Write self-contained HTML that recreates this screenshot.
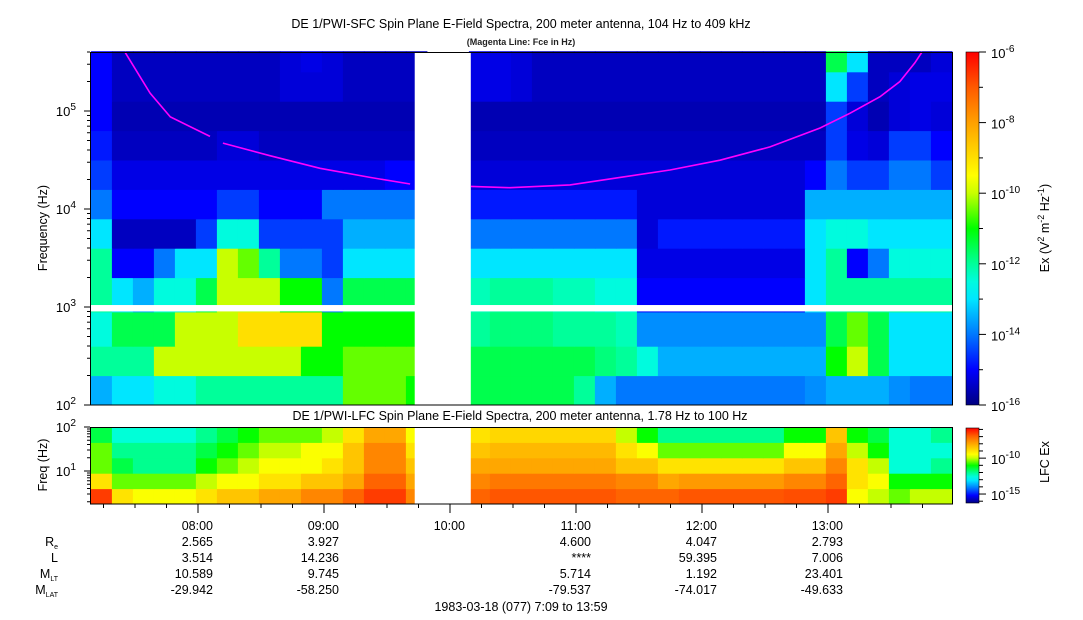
<!DOCTYPE html>
<html><head><meta charset="utf-8"><style>
html,body{margin:0;padding:0;background:#fff;}
svg{display:block;font-family:"Liberation Sans",Arial,sans-serif;}
</style></head><body>
<svg id="chart" xmlns="http://www.w3.org/2000/svg" width="1083" height="620" viewBox="0 0 1083 620">
<defs>
<linearGradient id="cbGrad" x1="0" y1="1" x2="0" y2="0"></linearGradient>
</defs>
<text x="521" y="28" font-size="12.5" text-anchor="middle">DE 1/PWI-SFC  Spin Plane E-Field Spectra, 200 meter antenna, 104 Hz to 409 kHz</text>
<text x="521" y="45" font-size="9" font-weight="bold" text-anchor="middle" fill="#222">(Magenta Line: Fce in Hz)</text>
<text x="520" y="420" font-size="12.5" text-anchor="middle">DE 1/PWI-LFC  Spin Plane E-Field Spectra, 200 meter antenna, 1.78 Hz to 100 Hz</text>
<g id="sfcCells"></g>
<g id="lfcCells"></g>
<g id="overlay"></g>
<g id="axes"></g>
</svg>
<script>
// ---- data ----
const tStart = 7.15;           // 7:09 in hours
const binHours = 1/6;          // 10-minute columns
const gapStart = 9.72, gapEnd = 10.165;
const sfcRowEdges = [2,2.3,2.6,2.95,3.3,3.6,3.9,4.2,4.5,4.8,5.1,5.4,5.61];
const lfcRowEdges = [0.25,0.6,0.95,1.3,1.65,2.0];
const N = null;
const sfcR0 = [-13.5,-13,-13,-12.5,-12.5,-12,-12,-12,-12,-12,-12,-12,-10.5,-10.5,-10.5,-11,N,N,-11.5,-11.5,-11.5,-11.5,-11.5,-12,-13.5,-14,-14,-14,-14,-14,-14,-14,-14,-14,-13.8,-13.5,-13.5,-13.5,-13.8,-14,-14];
const sfcR1 = [-12,-12,-12,-10,-10,-10,-10,-10,-10,-10,-11,-11,-10.5,-10.5,-10.5,-10.5,N,N,-11.5,-11.5,-11.5,-11.5,-11.5,-11.5,-11.8,-12,-12.5,-13.5,-13.5,-13.5,-13.5,-13.5,-13.5,-13.5,-13.5,-11,-10,-11.5,-13,-13,-13];
const sfcR2 = [-12.5,-11.5,-11.5,-11.5,-10,-10,-10,-9,-9,-9,-9,-11,-11,-11,-11,-11,N,N,-12,-11.8,-11.8,-11.8,-12,-12,-12,-12.2,-13.8,-13.8,-13.8,-13.8,-13.8,-13.8,-13.8,-13.8,-13.8,-11.5,-10.5,-11.5,-13,-13,-13];
const sfcR3 = [-12,-13,-13.5,-12.5,-12.5,-11.5,-10,-10,-10,-11,-11,-14,-11.5,-11.5,-11.5,-11.5,N,N,-12.2,-12,-12,-12,-12.2,-12.2,-12.5,-12.5,-15,-15,-15,-15,-15,-15,-15,-15,-13,-12,-12,-12,-12,-12,-12];
const sfcR4 = [-12,-15,-15,-14,-13,-13,-10,-10.5,-12,-14,-14,-14.5,-13,-13,-13,-13,N,N,-13,-13,-13,-13,-13,-13,-13,-13,-15.2,-15.2,-15.2,-15.2,-15.2,-15.2,-15.2,-15.2,-13,-12,-15,-14,-12.5,-12.5,-12.5];
const sfcR5 = [-13,-15.5,-15.5,-15.5,-15.5,-14.5,-12.5,-12.5,-14.5,-14.5,-14.5,-14.5,-13.5,-13.5,-13.5,-13.5,N,N,-14,-14,-14,-14,-14,-14,-14,-14,-15.3,-14.8,-14.8,-14.8,-14.8,-14.8,-14.8,-14.8,-13,-12.5,-12.5,-13,-13,-13,-13];
const sfcR6 = [-14,-15,-15,-15,-15,-15,-14.5,-14.5,-15,-15,-15,-14,-14,-14,-14,-14,N,N,-14.8,-14.8,-14.8,-14.8,-14.8,-14.8,-14.8,-14.8,-15.3,-15.3,-15.3,-15.3,-15.3,-15.3,-15.3,-15.3,-13.5,-13.5,-13.5,-13.5,-13.5,-13.5,-13.5];
const sfcR7 = [-14.5,-15.2,-15.2,-15.2,-15.2,-15.2,-15.2,-15.2,-15.2,-15.2,-15.2,-15.2,-15.2,-15.2,-15,-15,N,N,-15.3,-15.3,-15.3,-15.3,-15.3,-15.3,-15.3,-15.3,-15.3,-15.3,-15.3,-15.3,-15.3,-15.3,-15.3,-15.3,-15,-14,-14.5,-14.5,-14,-14,-14.5];
const sfcR8 = [-14.8,-15.5,-15.5,-15.5,-15.5,-15.5,-15.3,-15.3,-15.5,-15.5,-15.5,-15.5,-15.5,-15.5,-15.5,-15.5,N,N,-15.5,-15.5,-15.5,-15.5,-15.5,-15.5,-15.5,-15.5,-15.5,-15.5,-15.5,-15.5,-15.5,-15.5,-15.5,-15.5,-15.5,-14.5,-15.2,-15.3,-14.5,-14.5,-15];
const sfcR9 = [-15,-15.6,-15.6,-15.6,-15.6,-15.6,-15.6,-15.6,-15.6,-15.6,-15.6,-15.6,-15.6,-15.6,-15.6,-15.6,N,N,-15.6,-15.6,-15.6,-15.6,-15.6,-15.6,-15.6,-15.6,-15.6,-15.6,-15.6,-15.6,-15.6,-15.6,-15.6,-15.6,-15.6,-14.5,-15.3,-15.6,-15.3,-15.2,-15.3];
const sfcR10 = [-15,-15.5,-15.5,-15.5,-15.5,-15.5,-15.5,-15.5,-15.5,-15.3,-15.3,-15.3,-15.5,-15.5,-15.5,-15.5,N,N,-15.2,-15.2,-15.3,-15.5,-15.5,-15.5,-15.5,-15.5,-15.5,-15.5,-15.5,-15.5,-15.5,-15.5,-15.5,-15.5,-15.5,-13,-14.5,-15.5,-15.3,-15.2,-15.2];
const sfcR11 = [-15,-15.5,-15.5,-15.5,-15.5,-15.5,-15.5,-15.5,-15.5,-15.3,-15.2,-15.3,-15.5,-15.5,-15.5,-15.5,N,N,-15.2,-15.2,-15.3,-15.5,-15.5,-15.5,-15.5,-15.5,-15.5,-15.5,-15.5,-15.5,-15.5,-15.5,-15.5,-15.5,-15.5,-11.5,-13,-15.5,-15.5,-15.5,-15.3];
const lfcR0 = [-6.5,-9,-9.5,-9.5,-9.5,-9,-8.5,-8.5,-8,-8,-7.5,-7.5,-7,-6.5,-6.5,-7.5,N,N,-7,-6.8,-6.8,-6.8,-6.8,-6.8,-6.8,-7,-7,-7,-6.8,-6.8,-6.8,-6.8,-6.8,-6.7,-6.7,-6.5,-9.5,-10,-10.5,-10,-10];
const lfcR1 = [-9,-10.5,-10.5,-10.5,-10.5,-10,-9.5,-9.5,-9,-9,-8.5,-8.5,-8,-7,-7,-8,N,N,-7.5,-7.3,-7.3,-7.3,-7.3,-7.3,-7.3,-7.5,-7.5,-8,-7.8,-7.8,-7.8,-7.8,-7.8,-7.5,-7.5,-7,-9,-9.5,-11,-11,-11];
const lfcR2 = [-10.5,-11.5,-12,-12,-12,-11,-10.5,-10,-9.5,-9.5,-9.5,-9,-8.5,-7.5,-7.5,-8.5,N,N,-8,-8,-8,-8,-8,-8,-8,-8.5,-8.5,-9,-9,-9,-9,-9,-9,-8.5,-8.5,-7.5,-9,-10,-12.5,-12.5,-12];
const lfcR3 = [-10.5,-12,-12,-12,-12,-11.5,-11,-10.5,-10,-10,-9.5,-9.5,-8.5,-7.5,-7.5,-9,N,N,-8.5,-8.3,-8.3,-8.3,-8.3,-8.3,-8.3,-9,-9.5,-10.5,-10.5,-10.5,-10.5,-10.5,-10.5,-9.5,-9.5,-8,-10,-11,-12.5,-12.5,-12.5];
const lfcR4 = [-11.5,-12.5,-12.5,-12.5,-12.5,-12,-11.5,-11,-10.5,-10.5,-10.5,-10,-9,-8,-8,-9.5,N,N,-9,-8.8,-8.8,-8.8,-8.8,-8.8,-8.8,-10,-11,-12,-12,-12,-12,-12,-12,-11,-11,-8.5,-11,-11.5,-12.5,-12.5,-12];
const sfcRows = [sfcR0,sfcR1,sfcR2,sfcR3,sfcR4,sfcR5,sfcR6,sfcR7,sfcR8,sfcR9,sfcR10,sfcR11];
const lfcRows = [lfcR0,lfcR1,lfcR2,lfcR3,lfcR4];
// Fce line: hours and Hz (null separates segments)
const fceHours = [7.42,7.62,7.78,8.095,null,8.198,8.571,8.968,9.365,9.683,null,10.167,10.476,10.952,11.349,11.746,12.143,12.540,12.937,13.175,13.413,13.571,13.690,13.746];
const fceHz = [400000,152000,87000,55000,null,47000,35000,26000,21000,18000,null,17000,16500,17600,21000,25000,31500,43000,67000,95000,140000,200000,310000,400000];
const tickHours = [8,9,10,11,12,13];
const tickLabels = ["08:00","09:00","10:00","11:00","12:00","13:00"];
const reVals = ["2.565","3.927","","4.600","4.047","2.793"];
const lVals = ["3.514","14.236","","****","59.395","7.006"];
const mltVals = ["10.589","9.745","","5.714","1.192","23.401"];
const mlatVals = ["-29.942","-58.250","","-79.537","-74.017","-49.633"];

// ---- scales ----
const X0=91, PXH=126;
const xT = h => 198 + (h-8)*PXH;
const ySfc = lf => 405 - (lf-2)*98;
const yLfc = lf => 427 + (2-lf)*44;
const sfcMin=-16,sfcMax=-6, lfcMin=-16.25,lfcMax=-5.8;
const stops=[[0,[0,0,128]],[0.1,[0,0,255]],[0.2,[0,120,255]],[0.3,[0,230,255]],[0.36,[0,255,215]],[0.5,[0,255,0]],[0.6,[200,255,0]],[0.65,[255,255,0]],[0.8,[255,160,0]],[0.9,[255,90,0]],[1,[255,0,0]]];
function cmap(f){f=Math.max(0,Math.min(1,f));for(let i=1;i<stops.length;i++){if(f<=stops[i][0]){const a=stops[i-1],b=stops[i];const t=(f-a[0])/(b[0]-a[0]);const c=a[1].map((v,k)=>Math.round(v+(b[1][k]-v)*t));return `rgb(${c[0]},${c[1]},${c[2]})`;}}return 'rgb(255,0,0)';}
const NS='http://www.w3.org/2000/svg';
function mk(tag,attrs,parent){const e=document.createElementNS(NS,tag);for(const k in attrs)e.setAttribute(k,attrs[k]);parent.appendChild(e);return e;}

// ---- heatmaps ----
const gS=document.getElementById('sfcCells');
sfcRows.forEach((row,r)=>{row.forEach((v,c)=>{if(v===null)return;
  const x1=Math.max(X0,xT(tStart+c*binHours)), x2=Math.min(953,xT(tStart+(c+1)*binHours));
  const y1=ySfc(sfcRowEdges[r+1]), y2=ySfc(sfcRowEdges[r]);
  const e=mk('rect',{x:x1,y:y1,width:x2-x1+0.5,height:y2-y1+0.5,fill:cmap((v-sfcMin)/(sfcMax-sfcMin))},gS);
  
  
});});
const gL=document.getElementById('lfcCells');
lfcRows.forEach((row,r)=>{row.forEach((v,c)=>{if(v===null)return;
  const x1=Math.max(X0,xT(tStart+c*binHours)), x2=Math.min(953,xT(tStart+(c+1)*binHours));
  const y1=yLfc(lfcRowEdges[r+1]), y2=yLfc(lfcRowEdges[r]);
  const e=mk('rect',{x:x1,y:y1,width:x2-x1+0.5,height:y2-y1+0.5,fill:cmap((v-lfcMin)/(lfcMax-lfcMin))},gL);
  
  
});});

// ---- overlays ----
const gO=document.getElementById('overlay');
let g1=mk('rect',{x:xT(gapStart),y:52,width:xT(gapEnd)-xT(gapStart),height:353,fill:'#fff'},gO);


let g2=mk('rect',{x:xT(gapStart),y:427,width:xT(gapEnd)-xT(gapStart),height:77,fill:'#fff'},gO);


let band=mk('rect',{x:90,y:ySfc(3.02),width:863,height:ySfc(2.955)-ySfc(3.02),fill:'#fff'},gO);


let d='',pen=false;
fceHours.forEach((h,i)=>{if(h===null){pen=false;return;}const x=xT(h),y=Math.max(52,ySfc(Math.log10(fceHz[i])));d+=(pen?'L':'M')+x.toFixed(1)+','+y.toFixed(1);pen=true;});
let fl=mk('path',{d:d,fill:'none',stroke:'#ff00ff','stroke-width':1.6},gO);



// ---- axes ----
const gA=document.getElementById('axes');
let f1=mk('rect',{x:90.5,y:52.5,width:862,height:352.5,fill:'none',stroke:'#000','stroke-width':1},gA);


let f2=mk('rect',{x:90.5,y:427.5,width:862,height:76.5,fill:'none',stroke:'#000','stroke-width':1},gA);


function sup(parent,x,y,base,exp,anchor,size,name){const t=mk('text',{x:x,y:y,'font-size':size,'text-anchor':anchor},parent);t.textContent=base;const s=mk('tspan',{dy:-6,'font-size':size*0.78},t);s.textContent=exp;return t;}
for(let dec=2;dec<=5;dec++){for(let m=1;m<10;m++){const lf=dec+Math.log10(m);if(lf>5.61)break;const y=ySfc(lf);const len=m===1?6:3;
  let tk=mk('line',{x1:90-len,x2:90,y1:y,y2:y,stroke:'#000'},gA);}
  sup(gA,76,ySfc(dec)+5,'10',String(dec),'end',13,'sfc-y-tick-label');}
let yt=mk('text',{x:0,y:0,'font-size':12.5,'text-anchor':'middle',transform:'translate(47,228) rotate(-90)'},gA);
yt.textContent='Frequency (Hz)';
for(let dec=0;dec<=2;dec++){for(let m=1;m<10;m++){const lf=dec+Math.log10(m);if(lf<0.25||lf>2.001)continue;const y=yLfc(lf);const len=m===1?6:3;
  let tk=mk('line',{x1:90-len,x2:90,y1:y,y2:y,stroke:'#000'},gA);}}
sup(gA,76,yLfc(2)+5,'10','2','end',13,'lfc-y-tick-label');
sup(gA,76,yLfc(1)+5,'10','1','end',13,'lfc-y-tick-label');
let yt2=mk('text',{x:0,y:0,'font-size':12.5,'text-anchor':'middle',transform:'translate(47,465) rotate(-90)'},gA);
yt2.textContent='Freq (Hz)';
for(let q=Math.ceil(tStart*4);q/4<=13.98;q++){const h=q/4;const x=xT(h);const major=q%4===0;
  let tk=mk('line',{x1:x,x2:x,y1:504,y2:504+(major?9:4),stroke:'#000'},gA);}
const rowsY=[530,546,562,578,594];
const valSets=[tickLabels,reVals,lVals,mltVals,mlatVals];
tickHours.forEach((h,i)=>{valSets.forEach((vs,k)=>{if(!vs[i])return;
  const t=mk('text',{x:xT(h)+15,y:rowsY[k],'font-size':12.5,'text-anchor':'end'},gA);
  t.textContent=vs[i];});});
const lab=[['R','e',546],['L','',562],['M','LT',578],['M','LAT',594]];
lab.forEach(l=>{const t=mk('text',{x:58,y:l[2],'font-size':12.5,'text-anchor':'end'},gA);
  
  t.textContent=l[0];if(l[1]){const s=mk('tspan',{dy:3,'font-size':7},t);s.textContent=l[1];}});
let dt=mk('text',{x:521,y:611,'font-size':12.5,'text-anchor':'middle'},gA);
dt.textContent='1983-03-18 (077) 7:09 to 13:59';

const grad=document.getElementById('cbGrad');
for(let i=0;i<=20;i++){mk('stop',{offset:(i/20),'stop-color':cmap(i/20)},grad);}
let cb=mk('rect',{x:966,y:52,width:13,height:353,fill:'url(#cbGrad)',stroke:'#000','stroke-width':0.6},gA);

for(let e=-16;e<=-6;e++){const y=405-(e-sfcMin)/(sfcMax-sfcMin)*353;
  let tk=mk('line',{x1:979,x2:e%2===0?986:983,y1:y,y2:y,stroke:'#000'},gA);
  if(e%2===0)sup(gA,991,y+6,'10',String(e),'start',13,'colorbar-tick-label');}
let ct=mk('text',{x:0,y:0,'font-size':12.5,'text-anchor':'middle',transform:'translate(1049,228) rotate(-90)'},gA);

ct.innerHTML='Ex (V<tspan dy="-5" font-size="9">2</tspan><tspan dy="5"> m</tspan><tspan dy="-5" font-size="9">-2</tspan><tspan dy="5"> Hz</tspan><tspan dy="-5" font-size="9">-1</tspan><tspan dy="5">)</tspan>';
let cb2=mk('rect',{x:966,y:428,width:13,height:75,fill:'url(#cbGrad)',stroke:'#000','stroke-width':0.6},gA);

for(let e=-16;e<=-6;e++){const y=503-(e-lfcMin)/(lfcMax-lfcMin)*75;
  let tk=mk('line',{x1:979,x2:e%5===0?986:983,y1:y,y2:y,stroke:'#000'},gA);
  if(e%5===0)sup(gA,991,y+6,'10',String(e),'start',13,'lfc-colorbar-tick-label');}
let ct2=mk('text',{x:0,y:0,'font-size':12.5,'text-anchor':'middle',transform:'translate(1049,462) rotate(-90)'},gA);
ct2.textContent='LFC Ex';
</script>
</body></html>
